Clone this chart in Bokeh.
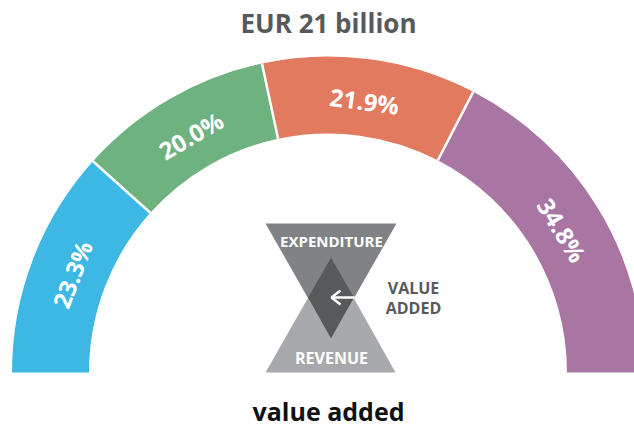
import math
from bokeh.plotting import figure
from bokeh.models import Range1d
from bokeh.core.properties import value
from bokeh.embed import file_html
from bokeh.resources import INLINE

shares = [23.3, 20.0, 21.9, 34.8]
colors = ["#3DB7E4", "#6EB27F", "#E27A5F", "#A976A4"]
share_labels = ["23.3%", "20.0%", "21.9%", "34.8%"]
title_text = "EUR 21 billion"
footer_text = "value added"
FONT = "Open Sans"

W, H = 634, 426
def Y(py):
    return H - py

p = figure(width=W, height=H, output_backend="svg", toolbar_location=None,
           x_range=Range1d(0, W), y_range=Range1d(0, H), min_border=0,
           x_axis_type=None, y_axis_type=None, outline_line_color=None,
           background_fill_color="white", border_fill_color="white")
p.grid.visible = False

cx, cy, r_in, r_out, r_label = 327.5, Y(372), 239, 316, 274
total = sum(shares)
cum = 0.0
for v, c, lab in zip(shares, colors, share_labels):
    a0 = math.pi * (1 - cum / total)
    a1 = math.pi * (1 - (cum + v) / total)
    p.annular_wedge(x=[cx], y=[cy], inner_radius=r_in, outer_radius=r_out,
                    start_angle=a1, end_angle=a0, fill_color=c, line_color=None)
    mid = (a0 + a1) / 2
    p.text(x=[cx + r_label * math.cos(mid)], y=[cy + r_label * math.sin(mid)],
           text=[lab], angle=[mid - math.pi / 2], text_color="white",
           text_font=value(FONT), text_font_style="bold", text_font_size="24px",
           text_align="center", text_baseline="middle")
    cum += v

# separators between the segments
cum = 0.0
for v in shares[:-1]:
    cum += v
    a = math.pi * (1 - cum / total)
    p.line([cx + r_in * math.cos(a), cx + r_out * math.cos(a)],
           [cy + r_in * math.sin(a), cy + r_out * math.sin(a)],
           line_color="white", line_width=2.5)

# hourglass
p.patch([265, 396, 330.5], [Y(223), Y(223), Y(338)], fill_color="#808285", line_color=None)
p.patch([265, 395, 330.5], [Y(372), Y(372), Y(257)], fill_color="#A7A9AC", line_color=None)
p.patch([330.5, 353.5, 330.5, 307.5], [Y(257), Y(297), Y(338), Y(297)], fill_color="#58595B", line_color=None)
# arrow
p.line([331, 354], [Y(297), Y(297)], line_color="white", line_width=2.5)
p.line([340, 331, 340], [Y(290), Y(297), Y(304)], line_color="white", line_width=2.5)

def label(x, y, t, color, size, bold=True):
    p.text(x=[x], y=[Y(y)], text=[t], text_color=color, text_font=value(FONT),
           text_font_style="bold" if bold else "normal", text_font_size=size,
           text_align="center", text_baseline="middle")

label(331, 240, "EXPENDITURE", "white", "15px")
label(331, 357, "REVENUE", "white", "16px")
label(413, 287, "VALUE", "#58595B", "16px")
label(413, 307, "ADDED", "#58595B", "16px")
label(328, 22, title_text, "#58595B", "26px")
label(328, 410, footer_text, "#111111", "25px")

open("out.html", "w").write(file_html(p, INLINE))
